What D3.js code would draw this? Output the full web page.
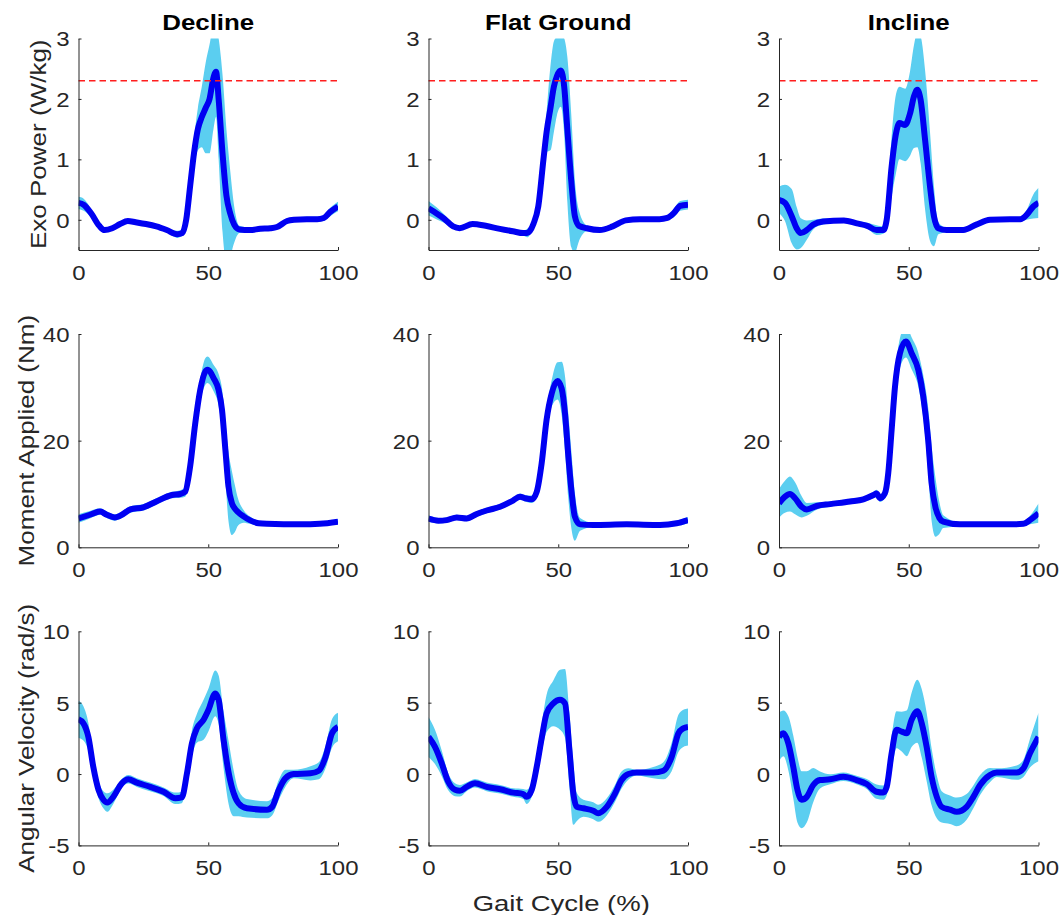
<!DOCTYPE html>
<html>
<head>
<meta charset="utf-8">
<script src="https://cdn.jsdelivr.net/npm/d3@7"></script>
<style>
  html, body { margin: 0; padding: 0; background: #fff; }
  svg { display: block; font-family: "Liberation Sans", Arial, Helvetica, sans-serif; }
</style>
</head>
<body>
<svg id="fig" width="1063" height="915"></svg>
<script>
// Gait-cycle profiles: each entry is [gait cycle %, mean, standard deviation]
const declinePower = [[0,0.28,0.1],[2,0.25,0.1],[5,0.1,0.07],[8,-0.1,0.04],[10,-0.17,0.04],[13,-0.14,0.03],[16,-0.07,0.03],[19,-0.02,0.03],[22,-0.04,0.03],[26,-0.07,0.03],[30,-0.11,0.03],[34,-0.17,0.03],[38,-0.24,0.06],[40,-0.22,0.05],[41.5,0.0,0.1],[43,0.55,0.2],[44.5,1.1,0.25],[46,1.5,0.35],[47.5,1.7,0.5],[49,1.85,0.75],[50.5,2.0,0.9],[52,2.35,0.85],[53,2.45,0.75],[54,2.0,1.0],[55.5,1.1,1.3],[57,0.4,1.1],[58.5,0.1,0.7],[60,-0.08,0.3],[62,-0.16,0.06],[66,-0.17,0.04],[70,-0.15,0.04],[74,-0.14,0.04],[76.5,-0.12,0.04],[80.4,-0.02,0.04],[83,0.0,0.04],[88,0.01,0.04],[92,0.01,0.04],[94.5,0.03,0.05],[97,0.13,0.07],[100,0.22,0.08]];
const flatPower = [[0,0.19,0.12],[3,0.11,0.1],[6,0.02,0.07],[9.5,-0.11,0.04],[12,-0.14,0.03],[17,-0.07,0.03],[22,-0.1,0.03],[27.5,-0.15,0.03],[32.5,-0.19,0.03],[36.5,-0.22,0.04],[38,-0.22,0.07],[40.5,-0.06,0.05],[42.3,0.22,0.1],[44.3,1.0,0.2],[45.5,1.45,0.33],[47,1.85,0.7],[48.3,2.2,0.75],[49.5,2.38,0.65],[51,2.47,0.6],[52.3,2.2,0.8],[53.5,1.5,1.2],[55,0.65,1.1],[56.4,0.06,0.6],[58,-0.1,0.25],[61,-0.14,0.05],[66,-0.17,0.04],[71,-0.11,0.04],[76,-0.01,0.03],[81.5,0.01,0.03],[89,0.01,0.03],[92,0.03,0.04],[94.5,0.11,0.07],[97,0.23,0.08],[100,0.25,0.08]];
const inclinePower = [[0,0.33,0.22],[2.3,0.28,0.3],[4.9,0.06,0.45],[6.8,-0.14,0.35],[8.3,-0.22,0.25],[10.7,-0.17,0.16],[13.2,-0.08,0.08],[17,-0.03,0.05],[25,-0.01,0.03],[30,-0.06,0.04],[34,-0.1,0.05],[37.6,-0.17,0.08],[40.2,-0.17,0.06],[41.5,0.0,0.15],[43.4,0.88,0.5],[45.1,1.43,0.65],[46.4,1.6,0.6],[48.6,1.57,0.6],[50.5,1.76,0.7],[52,2.04,0.85],[53.3,2.15,0.95],[54.6,1.98,1.05],[56.3,1.32,1.15],[58.2,0.55,0.9],[59.7,0.06,0.5],[61.4,-0.14,0.1],[64.6,-0.17,0.04],[71,-0.17,0.04],[76,-0.08,0.04],[81.3,0.0,0.03],[89,0.01,0.03],[93,0.01,0.04],[95.4,0.08,0.08],[98,0.22,0.2],[100,0.28,0.25]];

const declineMoment = [[0,5.4,0.8],[4.4,6.1,0.7],[8.3,6.7,0.6],[10.9,6.1,0.6],[14,5.6,0.6],[16,5.9,0.6],[20,7.1,0.6],[25,7.5,0.6],[30,8.6,0.6],[36,9.8,0.6],[39.2,10.0,0.7],[41.1,10.4,0.9],[43,15.1,1.2],[45,23.3,1.5],[46.9,29.5,2],[48.8,32.9,2.5],[49.7,33.3,2.5],[52.1,31.7,2.5],[54,29.5,3],[55.3,25.8,4],[56.6,18.3,5.5],[57.8,11.4,6.5],[59.1,8.3,6],[60.2,7.3,4.5],[61.5,6.6,2.5],[63.6,5.8,1.2],[66,5.1,0.7],[69.4,4.5,0.4],[72.6,4.4,0.3],[85.5,4.3,0.3],[93,4.4,0.3],[100,4.8,0.5]];
const flatMoment = [[0,5.4,0.6],[3.8,5.0,0.5],[7,5.1,0.5],[10.9,5.6,0.5],[14.7,5.4,0.5],[18.6,6.25,0.5],[22.4,6.9,0.5],[27.6,7.6,0.5],[32,8.6,0.5],[35.3,9.5,0.6],[37.2,9.2,0.6],[39.8,9.0,0.7],[41.7,10.4,0.9],[43.6,15.75,1.3],[45.5,23.9,1.8],[47.5,28.9,2.5],[49.7,31.2,3.5],[51.3,29.8,5],[52.6,25.1,7],[53.9,17,8],[55.2,10.1,7],[56.4,5.75,4.5],[58.4,4.3,1.2],[63.5,4.2,0.4],[76.4,4.3,0.3],[89.2,4.2,0.3],[95.6,4.5,0.5],[100,5.1,0.6]];
const inclineMoment = [[0,8.25,2.7],[2.3,9.5,3.0],[4.2,10.0,3.3],[6.2,9.2,3.0],[8.7,7.6,2.0],[10.7,7.1,1.2],[14.5,7.75,0.7],[19.7,8.1,0.5],[27.4,8.6,0.5],[32.5,9.0,0.5],[36.4,9.8,0.6],[37.6,10.1,0.7],[38.9,9.2,0.7],[40.8,10.1,0.8],[42.1,13.9,1.2],[43.4,22,1.8],[44.7,30.1,2.2],[46.6,36.4,2.8],[48.9,38.6,3],[51.1,36.4,3],[53.7,33.25,3.2],[55.6,28.25,4],[57.5,20.1,6],[58.8,12,7],[60.3,7.5,5.5],[61.8,5.5,3],[63.3,4.8,1.2],[69.7,4.3,0.4],[89,4.3,0.3],[94.2,4.4,0.4],[96.7,5.1,0.8],[100,6.4,1.8]];

const declineVelocity = [[0,3.83,1.3],[1.9,3.55,1.2],[3.8,2.6,1.0],[5.7,0.5,0.7],[7.7,-1.1,0.6],[9.6,-1.8,0.6],[11.1,-2.0,0.65],[13.4,-1.6,0.5],[16.7,-0.65,0.3],[19.2,-0.37,0.3],[22.5,-0.6,0.3],[27.6,-0.9,0.3],[32.8,-1.24,0.3],[37.3,-1.7,0.4],[39.8,-1.64,0.4],[41.8,0.05,0.6],[43.7,2.15,0.9],[45.6,3.2,1.0],[48.2,3.8,1.4],[50.1,4.5,1.5],[52.7,5.65,1.6],[54,5.2,1.7],[55.9,2.4,2.0],[57.9,0.05,2.2],[59.8,-1.35,1.6],[61.7,-2.05,0.9],[64.9,-2.4,0.65],[72.6,-2.5,0.6],[74.6,-2.3,0.6],[77.2,-1.1,0.7],[79.7,-0.3,0.6],[82.9,0,0.3],[89.4,0.05,0.5],[92.6,0.23,0.6],[95.2,1.2,0.8],[97.7,2.85,1.0],[100,3.3,1.0]];
const flatVelocity = [[0,2.6,1.4],[2.5,1.9,1.2],[5.1,0.75,0.9],[7.6,-0.54,0.6],[10.2,-1.1,0.45],[12.1,-1.17,0.4],[14.7,-0.9,0.3],[17.9,-0.65,0.3],[22.4,-0.9,0.3],[27.6,-1.07,0.3],[32.7,-1.3,0.3],[36.5,-1.4,0.35],[37.8,-1.6,0.5],[39.8,-1.1,0.5],[41.7,0.5,0.7],[43.7,2.6,1.0],[45.5,4.25,1.3],[48.1,4.95,1.6],[50.7,5.2,2.1],[52.6,4.95,2.4],[54.3,1.7,2.6],[55.8,-1.35,2.2],[57.1,-2.3,1.0],[59.7,-2.4,0.6],[63.5,-2.57,0.6],[65.4,-2.75,0.6],[68.7,-2.3,0.6],[71.9,-1.35,0.6],[74.4,-0.42,0.6],[77,0,0.4],[80.2,0.1,0.2],[86.6,0.1,0.4],[90.5,0.23,0.6],[93.7,1.2,1.0],[96.3,2.85,1.3],[98.2,3.2,1.3],[100,3.3,1.3]];
const inclineVelocity = [[0,2.6,1.7],[1.7,2.85,1.6],[3.6,2.15,1.9],[5.5,0.5,2.2],[7.1,-1.1,2.3],[8.7,-1.8,2.0],[10.7,-1.6,1.8],[13.2,-0.77,1.2],[15.8,-0.42,0.6],[19.7,-0.37,0.35],[24.8,-0.19,0.3],[29.9,-0.42,0.3],[33.8,-0.7,0.35],[37.6,-1.24,0.5],[40.2,-1.3,0.5],[41.5,-0.9,0.6],[43.4,1.45,1.2],[45.3,3.1,1.3],[47.3,2.97,1.4],[49.2,2.85,1.6],[51.1,3.8,1.9],[53.3,4.4,2.2],[55,3.55,2.4],[56.9,1.9,2.4],[58.8,-0.19,2.0],[60.8,-1.6,1.5],[62.7,-2.3,1.1],[65.9,-2.5,1.0],[68.5,-2.65,1.0],[72.3,-2.3,0.9],[74.9,-1.6,0.8],[77.5,-0.77,0.7],[81.3,-0.07,0.5],[83.9,0.1,0.3],[91.6,0.1,0.5],[94.2,0.4,0.6],[96.7,1.45,1.0],[100,2.6,1.7]];

const conditions = ["Decline", "Flat Ground", "Incline"];
const rowLabels = ["Exo Power (W/kg)", "Moment Applied (Nm)", "Angular Velocity (rad/s)"];
const rowDomains = [[-0.5, 3], [0, 40], [-5, 10]];
const rowTicks = [[0, 1, 2, 3], [0, 20, 40], [-5, 0, 5, 10]];
const gaitDomain = [0, 100];
const gaitTicks = [0, 50, 100];
const powerLimit = 2.3;
const xLabel = "Gait Cycle (%)";

const panels = [
  [declinePower, flatPower, inclinePower],
  [declineMoment, flatMoment, inclineMoment],
  [declineVelocity, flatVelocity, inclineVelocity]
];

// Figure layout (pixels)
const colLeft = [78.5, 428.5, 779];
const plotW = 259.5;
const rowTop = [38.5, 334, 631.3];
const rowBottom = [250, 547.3, 845.4];
const yLabelOffset = [32.5, 44.5, 45];

// Text is drawn slightly wide, like the exported figure's Helvetica
const tickStretch = 1.17;
const titleStretch = 1.15;
const labelStretch = 1.21;

const axisColor = "#262626";
const bandColor = "#5BCEF0";
const meanColor = "#0000F2";

const svg = d3.select("#fig");
svg.append("rect").attr("width", 1063).attr("height", 915).attr("fill", "#fff");
const defs = svg.append("defs");

panels.forEach((row, r) => {
  row.forEach((series, c) => {
    const x = d3.scaleLinear().domain(gaitDomain).range([colLeft[c], colLeft[c] + plotW]);
    const y = d3.scaleLinear().domain(rowDomains[r]).range([rowBottom[r], rowTop[r]]);
    const clipId = `clip-${r}-${c}`;
    defs.append("clipPath").attr("id", clipId)
      .append("rect")
      .attr("x", x.range()[0]).attr("y", y.range()[1])
      .attr("width", plotW).attr("height", y.range()[0] - y.range()[1]);

    const g = svg.append("g");
    const plot = g.append("g").attr("clip-path", `url(#${clipId})`);

    // Standard-deviation band
    const band = d3.area()
      .x(d => x(d[0]))
      .y0(d => y(d[1] - d[2]))
      .y1(d => y(d[1] + d[2]))
      .curve(d3.curveMonotoneX);
    plot.append("path").datum(series)
      .attr("d", band).attr("fill", bandColor).attr("stroke", "none");

    // Mean curve
    const meanLine = d3.line()
      .x(d => x(d[0]))
      .y(d => y(d[1]))
      .curve(d3.curveMonotoneX);
    plot.append("path").datum(series)
      .attr("d", meanLine).attr("fill", "none")
      .attr("stroke", meanColor).attr("stroke-width", 6)
      .attr("stroke-linejoin", "round");

    // Power limit reference
    if (r === 0) {
      g.append("line")
        .attr("x1", x(gaitDomain[0])).attr("x2", x(gaitDomain[1]))
        .attr("y1", y(powerLimit)).attr("y2", y(powerLimit))
        .attr("stroke", "#FF1E1E").attr("stroke-width", 1.6)
        .attr("stroke-dasharray", "6.5,4");
    }

    // Axes (inward ticks, left and bottom only)
    const xAxis = d3.axisBottom(x).tickValues(gaitTicks).tickSizeInner(-3).tickSizeOuter(0)
      .tickPadding(0).tickFormat(d => String(d));
    const yAxis = d3.axisLeft(y).tickValues(rowTicks[r]).tickSizeInner(-3).tickSizeOuter(0)
      .tickPadding(0).tickFormat(d => String(d));

    const gx = g.append("g").attr("transform", `translate(0,${y.range()[0]})`).call(xAxis);
    const gy = g.append("g").attr("transform", `translate(${x.range()[0]},0)`).call(yAxis);
    [gx, gy].forEach(ax => {
      ax.select(".domain").attr("stroke", axisColor).attr("stroke-width", 1);
      ax.selectAll(".tick line").attr("stroke", axisColor).attr("stroke-width", 1);
      ax.selectAll(".tick text")
        .attr("fill", axisColor)
        .attr("transform", `scale(${tickStretch},1)`)
        .style("font-size", "20.5px")
        .style("font-family", "'Liberation Sans', Arial, sans-serif");
    });
    gx.selectAll(".tick text").attr("y", 30).attr("dy", null);
    gy.selectAll(".tick text").attr("x", -9 / tickStretch).attr("dy", "0.36em");

    // Condition titles
    if (r === 0) {
      svg.append("text")
        .attr("transform", `translate(${x(50)},29.5) scale(${titleStretch},1)`)
        .attr("text-anchor", "middle")
        .attr("font-weight", "bold")
        .attr("font-size", 22.5)
        .attr("fill", "#000")
        .text(conditions[c]);
    }

    // Row labels on the first column
    if (c === 0) {
      const cx = x.range()[0] - yLabelOffset[r];
      const cy = (y.range()[0] + y.range()[1]) / 2;
      svg.append("text")
        .attr("transform", `translate(${cx},${cy}) rotate(-90) scale(${labelStretch},1)`)
        .attr("text-anchor", "middle")
        .attr("font-size", 21.5)
        .attr("fill", axisColor)
        .text(rowLabels[r]);
    }

    // Shared x label under the middle column of the bottom row
    if (r === 2 && c === 1) {
      svg.append("text")
        .attr("transform", `translate(${x(50) + 3},911) scale(${labelStretch + 0.04},1)`)
        .attr("text-anchor", "middle")
        .attr("font-size", 22)
        .attr("fill", axisColor)
        .text(xLabel);
    }
  });
});
</script>
</body>
</html>
